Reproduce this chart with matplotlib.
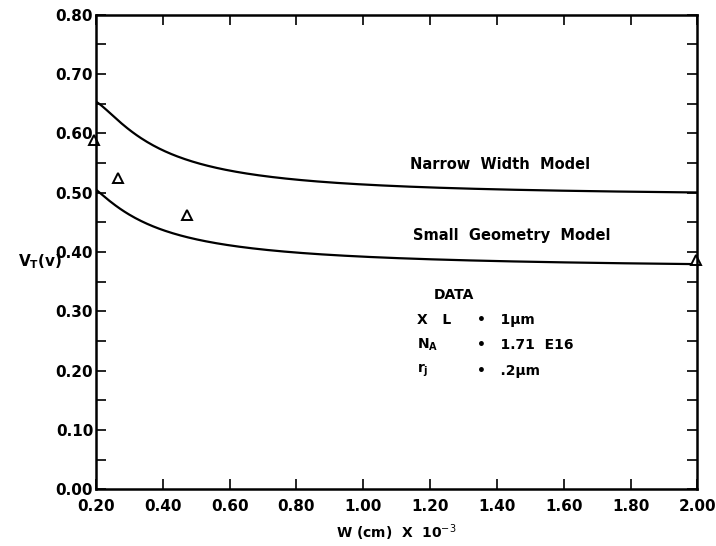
import numpy as np
import matplotlib
matplotlib.use("Agg")
import matplotlib.pyplot as plt
from matplotlib.ticker import MultipleLocator

# threshold voltage vs channel width
w_model = [0.20, 0.28, 0.38, 0.48, 0.63, 0.78, 0.93, 1.14, 1.50, 2.00]
vt_narrow = [0.653, 0.618, 0.574, 0.552, 0.535, 0.525, 0.517, 0.511, 0.505, 0.498]
vt_small = [0.505, 0.471, 0.440, 0.424, 0.408, 0.400, 0.395, 0.390, 0.384, 0.378]

w_meas = [0.195, 0.266, 0.472, 1.995]
vt_meas = [0.589, 0.525, 0.462, 0.386]

x_ticks = [0.2, 0.4, 0.6, 0.8, 1.0, 1.2, 1.4, 1.6, 1.8, 2.0]
x_labels = ["0.20", "0.40", "0.60", "0.80", "1.00", "1.20", "1.40", "1.60", "1.80", "2.00"]
y_ticks = [0.0, 0.1, 0.2, 0.3, 0.4, 0.5, 0.6, 0.7, 0.8]
y_labels = ["0.00", "0.10", "0.20", "0.30", "0.40", "0.50", "0.60", "0.70", "0.80"]

plt.rcParams['font.family'] = ['DejaVu Sans']

fig = plt.figure(figsize=(7.16, 5.46), dpi=100)
ax = fig.add_axes([0.134, 0.104, 0.840, 0.869])

# smooth curve through the read points: least squares in 1/W
xs = np.linspace(0.2, 2.0, 400)
for vt in (vt_narrow, vt_small):
    coef = np.polyfit(1.0 / np.array(w_model), vt, 3)
    ax.plot(xs, np.polyval(coef, 1.0 / xs), color="black", lw=1.6)

ax.plot(w_meas, vt_meas, linestyle="none", marker="^", ms=7,
        mfc="white", mec="black", mew=1.4, clip_on=False)

ax.set_xlim(0.2, 2.0)
ax.set_ylim(0.0, 0.8)
ax.set_xticks(x_ticks)
ax.set_xticklabels(x_labels)
ax.set_yticks(y_ticks)
ax.set_yticklabels(y_labels)
ax.yaxis.set_minor_locator(MultipleLocator(0.05))

ax.tick_params(axis="both", which="both", direction="in", top=True, right=True,
               width=1.2, color="black")
ax.tick_params(axis="both", which="major", length=7, labelsize=11, pad=2)
ax.tick_params(axis="x", which="major", pad=7)
ax.tick_params(axis="y", which="minor", length=7)
for lab in ax.get_xticklabels() + ax.get_yticklabels():
    lab.set_fontweight("bold")
for sp in ax.spines.values():
    sp.set_linewidth(1.8)

ax.text(1.14, 0.540, "Narrow  Width  Model", fontsize=10.5, fontweight="bold")
ax.text(1.15, 0.420, "Small  Geometry  Model", fontsize=10.5, fontweight="bold")

ax.text(1.27, 0.327, "DATA", fontsize=10, fontweight="bold", ha="center", va="center")
ax.text(1.16, 0.285, "X   L", fontsize=10, fontweight="bold", va="center")
ax.text(1.16, 0.243, r"N$_{\mathbf{A}}$", fontsize=10, fontweight="bold", va="center")
ax.text(1.16, 0.200, r"r$_{\mathbf{j}}$", fontsize=10, fontweight="bold", va="center")
ax.text(1.34, 0.285, "\u2022   1\u03bcm", fontsize=10, fontweight="bold", va="center")
ax.text(1.34, 0.243, "\u2022   1.71  E16", fontsize=10, fontweight="bold", va="center")
ax.text(1.34, 0.200, "\u2022   .2\u03bcm", fontsize=10, fontweight="bold", va="center")

ax.set_xlabel(r"W (cm)  X  10$^{-3}$", fontsize=10, fontweight="bold", labelpad=6)
fig.text(0.025, 0.52, r"V$_{\mathbf{T}}$(v)", fontsize=11, fontweight="bold", va="center")

fig.savefig("out.png", dpi=100)
